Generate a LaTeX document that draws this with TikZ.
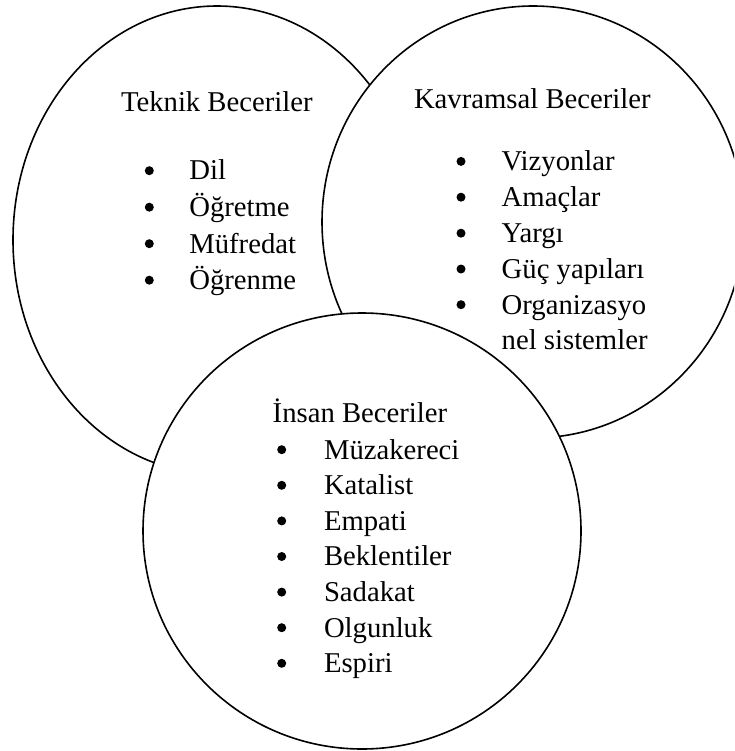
\documentclass[tikz,border=0pt]{standalone}
\usepackage{fontspec}
\setmainfont{Liberation Serif}
\begin{document}
\begin{tikzpicture}[x=1pt,y=-1pt,
  blob/.style={draw=black,line width=1.6pt,fill=white},
  lbl/.style={anchor=base west,inner sep=0pt,outer sep=0pt,font=\fontsize{28.7}{35.5}\selectfont},
  dot/.style={fill=black,draw=none}]
\useasboundingbox (0,0) rectangle (734,751);
\clip (0,0) rectangle (734,751);
\fill[white] (0,0) rectangle (734,751);
% ellipses (drawn in stacking order)
\draw[blob] (217,240) ellipse [x radius=204pt, y radius=234pt];
\draw[blob] (533,222) ellipse [x radius=211pt, y radius=216pt];
\draw[blob] (362,531) ellipse [x radius=219pt, y radius=218pt];
% Teknik
\node[lbl] (t0) at (121,112) {Teknik Beceriler};
\foreach \y/\t [count=\i] in {180/Dil,216.5/Öğretme,253/Müfredat,289.5/Öğrenme}{
  \fill[dot] (149.3,\y-9.3) circle (4.5pt);
  \node[lbl] (t\i) at (189.3,\y) {\t};
}
% Kavramsal
\node[lbl] (k0) at (414,108.3) {Kavramsal Beceriler};
\foreach \y/\t [count=\i] in {170.7/Vizyonlar,206.5/Amaçlar,242.5/Yargı,278.3/Güç yapıları,314/Organizasyo}{
  \fill[dot] (461,\y-9.3) circle (4.5pt);
  \node[lbl] (k\i) at (501.7,\y) {\t};
}
\node[lbl] (k6) at (501.7,349.5) {nel sistemler};
% Insan
\node[lbl] (i0) at (272.7,422.7) {İnsan Beceriler};
\foreach \y/\t [count=\i] in {459/Müzakereci,494.6/Katalist,530.2/Empati,565.8/Beklentiler,601.4/Sadakat,637/Olgunluk,672.6/Espiri}{
  \fill[dot] (281.7,\y-9.3) circle (4.5pt);
  \node[lbl] (i\i) at (324,\y) {\t};
}
\end{tikzpicture}
\end{document}
